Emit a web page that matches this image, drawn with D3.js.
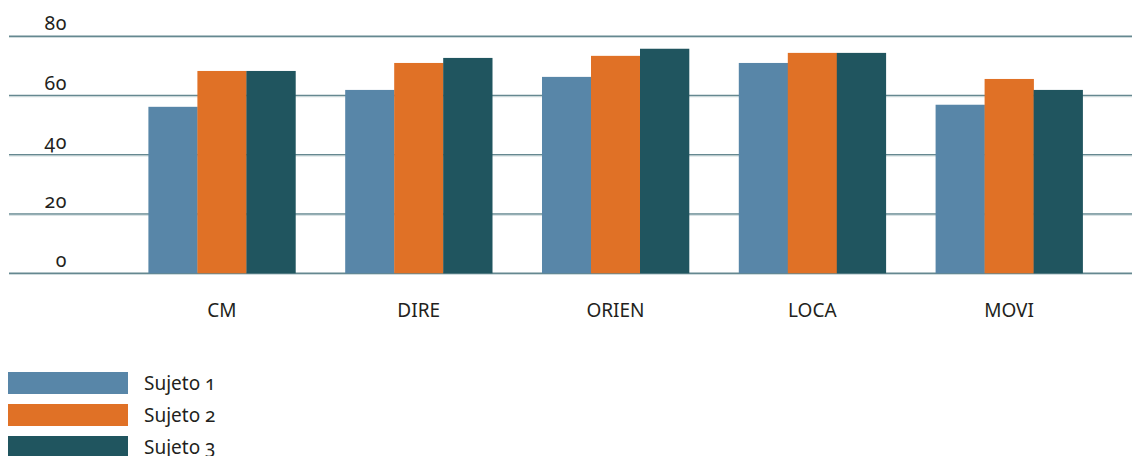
<!DOCTYPE html>
<html>
<head>
<meta charset="utf-8">
<script src="https://cdn.jsdelivr.net/npm/d3@7"></script>
<style>
  html, body { margin: 0; padding: 0; background: #fff; }
  svg { display: block; font-family: "Noto Sans", "Open Sans", sans-serif; font-variant-numeric: oldstyle-nums; }
</style>
</head>
<body>
<svg id="chart" width="1132" height="456"></svg>
<script>
// Chart data
const categories = ["CM", "DIRE", "ORIEN", "LOCA", "MOVI"];
const seriesNames = ["Sujeto 1", "Sujeto 2", "Sujeto 3"];
const sujeto1 = [56.2, 61.9, 66.3, 71.0, 56.9];
const sujeto2 = [68.3, 71.0, 73.4, 74.4, 65.6];
const sujeto3 = [68.3, 72.7, 75.8, 74.4, 61.9];
const yTicks = [0, 20, 40, 60, 80];
const colors = ["#5886a8", "#e07126", "#20555f"];

const seriesValues = [sujeto1, sujeto2, sujeto3];
const rows = categories.map((c, i) => ({
  category: c,
  values: seriesNames.map((s, j) => ({ series: s, value: seriesValues[j][i] }))
}));

const svg = d3.select("#chart");

const x0 = d3.scaleBand()
  .domain(categories)
  .range([50, 1181])
  .paddingInner(0.253)
  .paddingOuter(0.5);

const x1 = d3.scaleBand()
  .domain(seriesNames)
  .range([0, x0.bandwidth()])
  .padding(0);

const y = d3.scaleLinear()
  .domain([0, 80])
  .range([273.3, 36.3]);

const color = d3.scaleOrdinal().domain(seriesNames).range(colors);

// Horizontal gridlines
const grid = svg.append("g").attr("class", "grid");
grid.selectAll("line")
  .data(yTicks)
  .join("line")
  .attr("x1", 9)
  .attr("x2", 1132)
  .attr("y1", d => y(d))
  .attr("y2", d => y(d))
  .attr("stroke", "#658890")
  .attr("stroke-width", 1.5);
grid.selectAll("line.hl")
  .data(yTicks)
  .join("line")
  .attr("class", "hl")
  .attr("x1", 9)
  .attr("x2", 1132)
  .attr("y1", d => y(d) + 1.2)
  .attr("y2", d => y(d) + 1.2)
  .attr("stroke", "#c3d2d4")
  .attr("stroke-width", 0.8);

// Y tick labels
svg.append("g")
  .selectAll("text")
  .data(yTicks)
  .join("text")
  .attr("x", 67)
  .attr("y", d => y(d) - 6)
  .attr("text-anchor", "end")
  .attr("font-size", 19.5)
  .attr("letter-spacing", 0.6)
  .attr("fill", "#231f20")
  .text(d => d);

// Bars
const groups = svg.append("g")
  .selectAll("g")
  .data(rows)
  .join("g")
  .attr("transform", d => `translate(${x0(d.category)},0)`);

groups.selectAll("rect")
  .data(d => d.values)
  .join("rect")
  .attr("x", d => x1(d.series))
  .attr("width", x1.bandwidth() + 0.3)
  .attr("y", d => y(d.value))
  .attr("height", d => y(0) - y(d.value))
  .attr("fill", d => color(d.series));

// Category labels
svg.append("g")
  .selectAll("text")
  .data(categories)
  .join("text")
  .attr("x", d => x0(d) + x0.bandwidth() / 2)
  .attr("y", 317)
  .attr("text-anchor", "middle")
  .attr("font-size", 19)
  .attr("fill", "#231f20")
  .text(d => d);

// Legend
const legend = svg.append("g")
  .selectAll("g")
  .data(seriesNames)
  .join("g")
  .attr("transform", (d, i) => `translate(8,${372 + i * 32})`);

legend.append("rect")
  .attr("width", 120)
  .attr("height", 22)
  .attr("fill", d => color(d));

legend.append("text")
  .attr("x", 136)
  .attr("y", 18)
  .attr("font-size", 19)
  .attr("fill", "#231f20")
  .text(d => d);
</script>
</body>
</html>
